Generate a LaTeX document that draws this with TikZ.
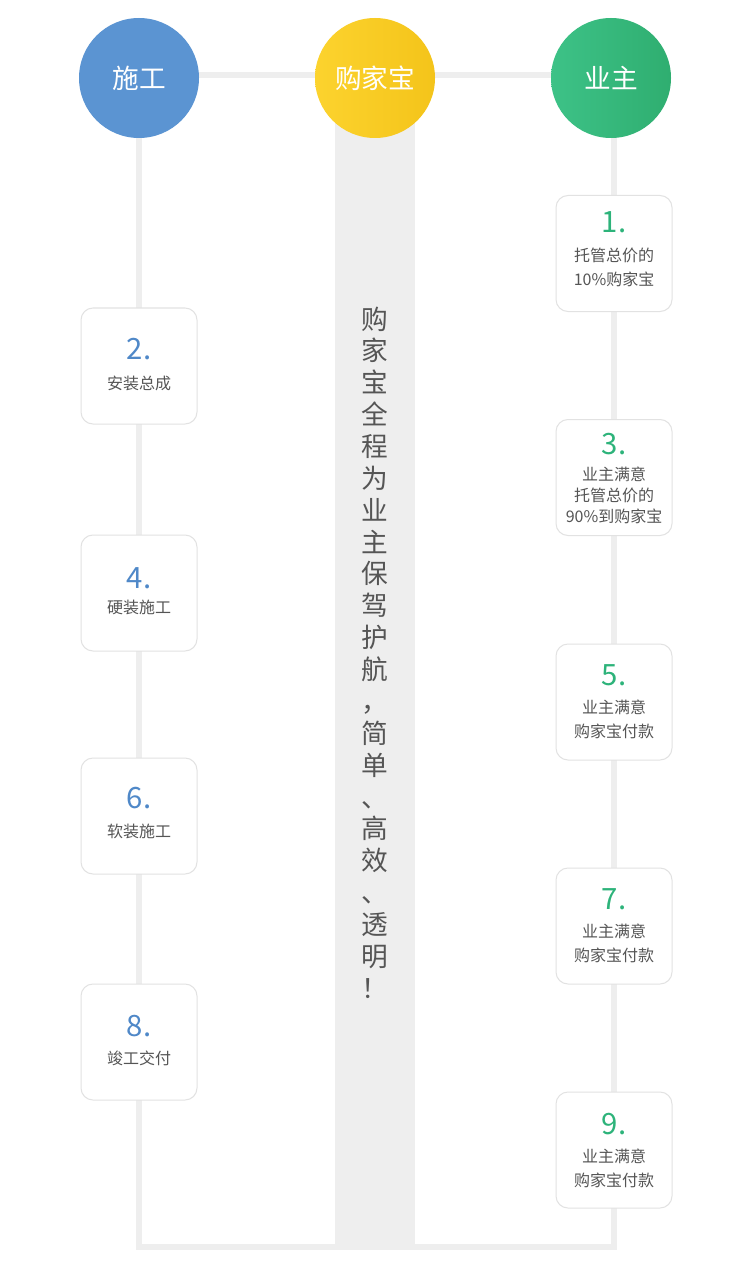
\documentclass[tikz,border=0pt]{standalone}
\usepackage{fontspec}
\setmainfont{Noto Sans CJK SC}
\usetikzlibrary{backgrounds}
\definecolor{linegray}{HTML}{EEEEEE}
\definecolor{boxborder}{HTML}{E2E2E2}
\definecolor{txtgray}{HTML}{555555}
\definecolor{numblue}{HTML}{4F88C8}
\definecolor{numgreen}{HTML}{2DB37A}
\definecolor{cblue}{HTML}{5B94D2}
\definecolor{cyelA}{HTML}{FCD32E}
\definecolor{cyelB}{HTML}{F4C41A}
\definecolor{cgrnA}{HTML}{3DC287}
\definecolor{cgrnB}{HTML}{2FAE70}
\begin{document}
\begin{tikzpicture}[x=0.75pt,y=-0.75pt,
  head/.style={circle, minimum size=90pt, inner sep=0pt, text=white,
    font=\fontsize{20pt}{22pt}\selectfont},
  stepbox/.style={draw=boxborder, line width=0.75pt, fill=white,
    rounded corners=9pt, minimum width=87pt, minimum height=87pt, inner sep=0pt},
  numL/.style={text=numblue, inner sep=0pt, font=\fontsize{22pt}{24pt}\selectfont},
  numR/.style={text=numgreen, inner sep=0pt, font=\fontsize{22pt}{24pt}\selectfont},
  desc/.style={text=txtgray, inner sep=0pt, align=center,
    font=\fontsize{12pt}{18pt}\selectfont},
  desctight/.style={desc, font=\fontsize{12pt}{15.75pt}\selectfont},
  frame/.style={draw=linegray, line width=4.5pt},
  slogan/.style={text=txtgray, inner sep=0pt, align=center,
    font=\fontsize{20pt}{23.9pt}\selectfont}]
\useasboundingbox (0,0) rectangle (750,1269);

% header circles
\node[head, fill=cblue] (shigong) at (139,78) {施工};
\node[head, left color=cyelA, right color=cyelB] (gjb) at (375,78) {购家宝};
\node[head, left color=cgrnA, right color=cgrnB] (yezhu) at (611,78) {业主};

% frame corners
\coordinate (lt) at (139,75);
\coordinate (rt) at (614,75);
\coordinate (bl) at (139,1247);
\coordinate (br) at (614,1247);
\coordinate (bandbot) at (375,1250);

% left boxes (construction)
\node[stepbox] (b2) at (139,366) {};
\node[numL] (n2) at ([yshift=12.75pt]b2.center) {2.};
\node[desc] (t2) at ([yshift=-12.75pt]b2.center) {安装总成};

\node[stepbox] (b4) at (139,593) {};
\node[numL] (n4) at ([yshift=11.25pt]b4.center) {4.};
\node[desc] (t4) at ([yshift=-10.5pt]b4.center) {硬装施工};

\node[stepbox] (b6) at (139,816) {};
\node[numL] (n6) at ([yshift=13.5pt]b6.center) {6.};
\node[desc] (t6) at ([yshift=-11.25pt]b6.center) {软装施工};

\node[stepbox] (b8) at (139,1042) {};
\node[numL] (n8) at ([yshift=12pt]b8.center) {8.};
\node[desc] (t8) at ([yshift=-12pt]b8.center) {竣工交付};

% right boxes (owner)
\node[stepbox] (b1) at (614,253.5) {};
\node[numR] (n1) at ([yshift=23.6pt]b1.center) {1.};
\node[desc] (t1) at ([yshift=-10.1pt]b1.center) {托管总价的\\10\%购家宝};

\node[stepbox] (b3) at (614,477.5) {};
\node[numR] (n3) at ([yshift=25.1pt]b3.center) {3.};
\node[desctight] (t3) at ([yshift=-13.1pt]b3.center) {业主满意\\托管总价的\\90\%到购家宝};

\node[stepbox] (b5) at (614,702) {};
\node[numR] (n5) at ([yshift=20.25pt]b5.center) {5.};
\node[desc] (t5) at ([yshift=-12.75pt]b5.center) {业主满意\\购家宝付款};

\node[stepbox] (b7) at (614,926) {};
\node[numR] (n7) at ([yshift=20.25pt]b7.center) {7.};
\node[desc] (t7) at ([yshift=-12.75pt]b7.center) {业主满意\\购家宝付款};

\node[stepbox] (b9) at (614,1150) {};
\node[numR] (n9) at ([yshift=19.5pt]b9.center) {9.};
\node[desc] (t9) at ([yshift=-13.9pt]b9.center) {业主满意\\购家宝付款};

% slogan
\node[slogan] (slg) at (375,652.5)
  {购\\家\\宝\\全\\程\\为\\业\\主\\保\\驾\\护\\航\\，\\简\\单\\、\\高\\效\\、\\透\\明\\！};

\begin{scope}[on background layer]
  \fill[white] (0,0) rectangle (750,1269);
  \fill[linegray] ([xshift=-30pt]gjb.center) rectangle ([xshift=30pt]bandbot);
  \draw[frame] (lt) -- (rt);
  \draw[frame] (shigong.center) -- (bl) -- (br) -- (rt);
\end{scope}
\end{tikzpicture}
\end{document}
